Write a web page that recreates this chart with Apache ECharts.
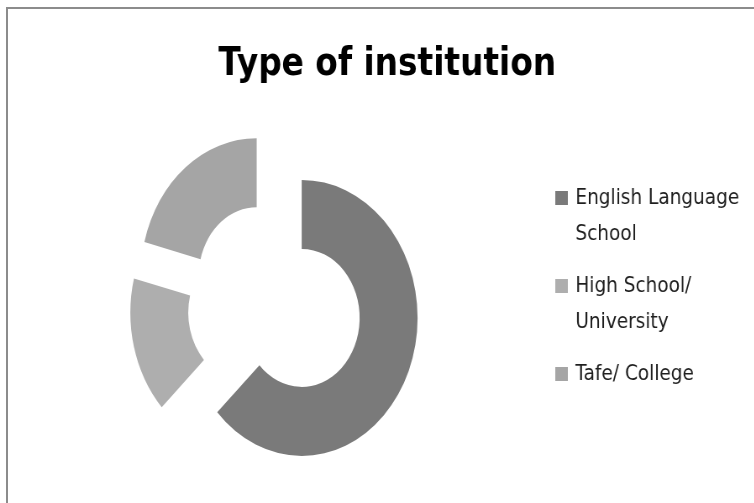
<!DOCTYPE html>
<html>
<head>
<meta charset="utf-8">
<script src="https://cdn.jsdelivr.net/npm/echarts@6/dist/echarts.min.js"></script>
<style>
  html, body { margin: 0; padding: 0; background: #ffffff; overflow: hidden; }
  body { width: 754px; height: 503px; position: relative; }
  /* chart frame: only the top and left edges fall inside the page */
  .frame {
    position: absolute; left: 6px; top: 7px; width: 800px; height: 560px;
    border-left: 2px solid #8c8c8c; border-top: 2px solid #8c8c8c;
    box-sizing: border-box;
  }
  /* the chart is laid out wider and squeezed horizontally, giving the oval ring */
  #chart {
    position: absolute; left: 0; top: 0; width: 898px; height: 503px;
    transform: scaleX(0.84); transform-origin: 0 0;
  }
</style>
</head>
<body>
<div class="frame"></div>
<div id="chart"></div>
<script>
// Share of students by type of institution (%)
const categories = ['English Language School', 'High School/ University', 'Tafe/ College'];
const legendLabels = ['English Language\nSchool', 'High School/\nUniversity', 'Tafe/ College\n'];
const shares = [63, 16, 21];
const sliceColors = ['#7a7a7a', '#aeaeae', '#a5a5a5'];

const titleText = 'Type of institution';
const fontFamily = '"DejaVu Sans", sans-serif';

// legend marker: square at the top of a tall cell so it lines up with the first text line
const markerIcon = 'path://M0 0L19 0M0 11L15 11L15 25L0 25ZM0 72L19 72';

const chart = echarts.init(document.getElementById('chart'), null, { renderer: 'canvas' });

chart.setOption({
  animation: false,
  backgroundColor: 'transparent',
  title: {
    text: titleText,
    left: 260,
    top: 45,
    padding: 0,
    textStyle: {
      fontFamily: fontFamily,
      fontWeight: 'bold',
      fontSize: 39,
      color: '#000000'
    }
  },
  legend: {
    orient: 'vertical',
    left: 661,
    top: 180,
    padding: 0,
    itemGap: 16,
    itemWidth: 19,
    itemHeight: 72,
    selectedMode: false,
    icon: markerIcon,
    itemStyle: { borderWidth: 0 },
    data: categories,
    formatter: function (name) {
      return legendLabels[categories.indexOf(name)];
    },
    textStyle: {
      fontFamily: fontFamily,
      fontSize: 22,
      lineHeight: 36,
      color: '#1e1e1e'
    }
  },
  series: [{
    type: 'pie',
    center: [327, 304],
    radius: [69, 138],
    startAngle: 90,
    clockwise: true,
    selectedMode: 'multiple',
    selectedOffset: 35,
    silent: true,
    label: { show: false },
    labelLine: { show: false },
    itemStyle: { borderWidth: 0 },
    emphasis: { disabled: true },
    data: categories.map(function (name, i) {
      return {
        name: name,
        value: shares[i],
        selected: true,
        itemStyle: { color: sliceColors[i] },
        select: { itemStyle: { color: sliceColors[i], borderWidth: 0 } }
      };
    })
  }]
});
</script>
</body>
</html>
